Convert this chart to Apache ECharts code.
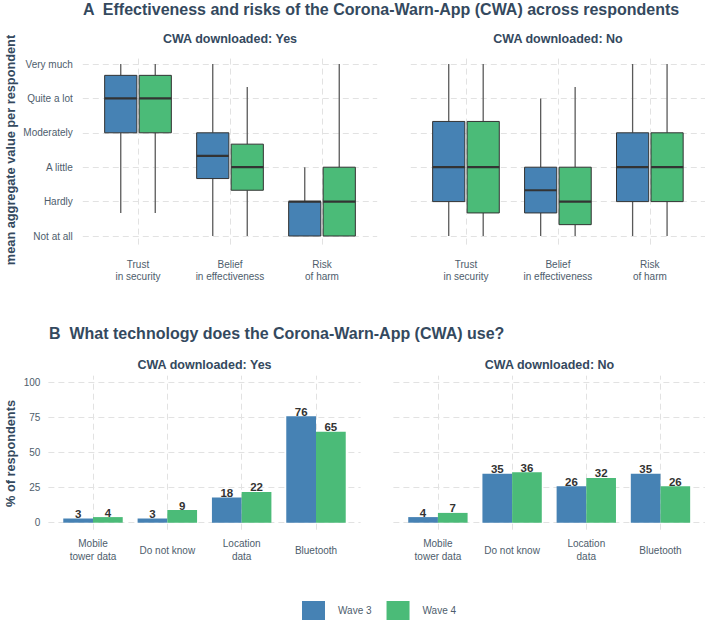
<!DOCTYPE html>
<html><head><meta charset="utf-8">
<script src="https://cdn.jsdelivr.net/npm/echarts@6/dist/echarts.min.js"></script>
<style>html,body{margin:0;padding:0;background:#fff}#c{width:708px;height:623px}</style>
</head><body><div id="c"></div>
<script>
// ---------- data ----------
const boxCategories = ['Trust\nin security', 'Belief\nin effectiveness', 'Risk\nof harm'];
const levelLabels = ['Not at all', 'Hardly', 'A little', 'Moderately', 'Quite a lot', 'Very much'];
// each entry: [lower whisker, Q1, median, Q3, upper whisker]
const boxYesWave3 = [[0.67, 3, 4, 4.67, 5], [0, 1.67, 2.33, 3, 5], [0, 0, 1, 1, 2]];
const boxYesWave4 = [[0.67, 3, 4, 4.67, 5], [0, 1.33, 2, 2.67, 4.33], [0, 0, 1, 2, 5]];
const boxNoWave3  = [[0, 1, 2, 3.33, 5], [0, 0.67, 1.33, 2, 4], [0, 1, 2, 3, 5]];
const boxNoWave4  = [[0, 0.67, 2, 3.33, 5], [0, 0.33, 1, 2, 4.33], [0, 1, 2, 3, 5]];

const techCategories = ['Mobile\ntower data', 'Do not know', 'Location\ndata', 'Bluetooth'];
const techYesWave3 = [3, 3, 18, 76];
const techYesWave4 = [4, 9, 22, 65];
const techNoWave3  = [4, 35, 26, 35];
const techNoWave4  = [7, 36, 32, 26];
const pctTicks = [0, 25, 50, 75, 100];

const waveNames = ['Wave 3', 'Wave 4'];

// ---------- style ----------
const FONT = '"Liberation Sans", Arial, Helvetica, sans-serif';
const BLUE = '#4682B4', GREEN = '#4BBB78';
const TITLE_C = '#34495E', TICK_C = '#4E5D6C';
const GRID_C = '#e2e2e2';

const chart = echarts.init(document.getElementById('c'), null, {renderer: 'svg'});

const isInt = v => Math.abs(v - Math.round(v)) < 1e-6;

function xAxisFor(gridIndex, cats, margin) {
  return {
    type: 'value', gridIndex, min: -0.6, max: cats.length - 1 + 0.6, interval: 0.2,
    axisLine: {show: false}, axisTick: {show: false}, splitLine: {show: false},
    axisLabel: {
      margin, verticalAlign: 'middle', align: 'center', lineHeight: 12.5,
      fontFamily: FONT, fontSize: 10, color: TICK_C,
      formatter: v => (isInt(v) && v >= 0 && v < cats.length) ? cats[Math.round(v)] : ''
    }
  };
}
function yAxisBox(gridIndex, showLabels) {
  return {
    type: 'value', gridIndex, min: -0.25, max: levelLabels.length - 1 + 0.25, interval: 0.25,
    axisLine: {show: false}, axisTick: {show: false}, splitLine: {show: false},
    axisLabel: {
      show: showLabels, margin: 10, fontFamily: FONT, fontSize: 10, color: TICK_C,
      formatter: v => (isInt(v) && v >= 0 && v < levelLabels.length) ? levelLabels[Math.round(v)] : ''
    }
  };
}
function yAxisPct(gridIndex, showLabels) {
  return {
    type: 'value', gridIndex, min: -5, max: 105, interval: 5,
    axisLine: {show: false}, axisTick: {show: false}, splitLine: {show: false},
    axisLabel: {
      show: showLabels, margin: 8, fontFamily: FONT, fontSize: 10, color: TICK_C,
      formatter: v => pctTicks.some(t => Math.abs(t - v) < 1e-6) ? String(Math.round(v)) : ''
    }
  };
}

function gridSeries(axisIndex, xVals, yVals) {
  return {
    type: 'line', name: 'grid' + axisIndex, xAxisIndex: axisIndex, yAxisIndex: axisIndex,
    data: [], silent: true, z: 1,
    markLine: {
      z: 1, silent: true, symbol: ['none', 'none'], animation: false,
      label: {show: false},
      lineStyle: {color: GRID_C, type: [6, 4], width: 1},
      emphasis: {disabled: true},
      data: xVals.map(v => ({xAxis: v})).concat(yVals.map(v => ({yAxis: v})))
    }
  };
}

function boxItem(side, fill) {
  return function (params, api) {
    const x = api.value(0);
    const unit = api.size([1, 0])[0];
    const cx = api.coord([x, 0])[0] + side * 0.1875 * unit;
    const hw = 0.175 * unit;
    const y = k => api.coord([x, api.value(k)])[1];
    const yLo = y(1), yQ1 = y(2), yMed = y(3), yQ3 = y(4), yHi = y(5);
    const wStyle = {stroke: '#5a5a5a', lineWidth: 1.3};
    return {type: 'group', children: [
      {type: 'line', shape: {x1: cx, y1: yHi, x2: cx, y2: yQ3}, style: wStyle},
      {type: 'line', shape: {x1: cx, y1: yQ1, x2: cx, y2: yLo}, style: wStyle},
      {type: 'rect', shape: {x: cx - hw, y: yQ3, width: 2 * hw, height: yQ1 - yQ3},
        style: {fill, stroke: '#333', lineWidth: 1}},
      {type: 'line', shape: {x1: cx - hw, y1: yMed, x2: cx + hw, y2: yMed},
        style: {stroke: '#333', lineWidth: 2.2}}
    ]};
  };
}
function boxSeries(axisIndex, name, side, fill, stats) {
  return {
    type: 'custom', name, xAxisIndex: axisIndex, yAxisIndex: axisIndex, z: 3,
    itemStyle: {color: fill}, silent: true,
    renderItem: boxItem(side, fill),
    encode: {x: 0, y: [1, 2, 3, 4, 5]},
    data: stats.map((s, i) => [i].concat(s))
  };
}

function barItem(side, fill) {
  return function (params, api) {
    const x = api.value(0), v = api.value(1);
    const unit = api.size([1, 0])[0];
    const p0 = api.coord([x, 0]), p1 = api.coord([x, v]);
    const w = 0.4 * unit;
    const left = side < 0 ? p0[0] - w : p0[0];
    return {type: 'group', children: [
      {type: 'rect', shape: {x: left, y: p1[1], width: w, height: p0[1] - p1[1]}, style: {fill}},
      {type: 'text', x: left + w / 2, y: p1[1] - 4.5,
        style: {text: String(v), align: 'center', verticalAlign: 'middle', fill: '#333',
          font: 'bold 11.5px ' + FONT}}
    ]};
  };
}
function barSeries(axisIndex, name, side, fill, vals) {
  return {
    type: 'custom', name, xAxisIndex: axisIndex, yAxisIndex: axisIndex, z: 3,
    itemStyle: {color: fill}, silent: true,
    renderItem: barItem(side, fill),
    encode: {x: 0, y: 1},
    data: vals.map((v, i) => [i, v])
  };
}

const idx = arr => arr.map((_, i) => i);

const graphicText = (x, y, text, size, opts) => Object.assign({
  type: 'text', x, y, silent: true,
  style: {text, fill: TITLE_C, font: 'bold ' + size + 'px ' + FONT,
    align: 'center', verticalAlign: 'middle'}
}, opts || {});

const option = {
  animation: false,
  backgroundColor: '#fff',
  grid: [
    {left: 82.8, top: 55.4, width: 294.4, height: 189.2},
    {left: 410.8, top: 55.4, width: 294.4, height: 189.2},
    {left: 48.4, top: 375.7, width: 312.2, height: 154},
    {left: 393.4, top: 375.7, width: 312.2, height: 154}
  ],
  xAxis: [
    xAxisFor(0, boxCategories, 26),
    xAxisFor(1, boxCategories, 26),
    xAxisFor(2, techCategories, 20.3),
    xAxisFor(3, techCategories, 20.3)
  ],
  yAxis: [
    yAxisBox(0, true), yAxisBox(1, false),
    yAxisPct(2, true), yAxisPct(3, false)
  ],
  legend: {
    left: 302, top: 601, padding: 0, itemWidth: 23, itemHeight: 19, itemGap: 15,
    icon: 'rect', selectedMode: false,
    textStyle: {fontFamily: FONT, fontSize: 10, color: TICK_C, padding: [0, 0, 0, 8]},
    data: [
      {name: waveNames[0], itemStyle: {color: BLUE}},
      {name: waveNames[1], itemStyle: {color: GREEN}}
    ]
  },
  graphic: [
    {type: 'text', x: 83, y: 9, silent: true,
      style: {text: 'A  Effectiveness and risks of the Corona-Warn-App (CWA) across respondents',
        fill: TITLE_C, font: 'bold 16px ' + FONT, align: 'left', verticalAlign: 'middle'}},
    {type: 'text', x: 49, y: 333.5, silent: true,
      style: {text: 'B  What technology does the Corona-Warn-App (CWA) use?',
        fill: TITLE_C, font: 'bold 16px ' + FONT, align: 'left', verticalAlign: 'middle'}},
    graphicText(230, 39, 'CWA downloaded: Yes', 12.5),
    graphicText(558, 39, 'CWA downloaded: No', 12.5),
    graphicText(204.5, 365, 'CWA downloaded: Yes', 12.5),
    graphicText(549.5, 365, 'CWA downloaded: No', 12.5),
    graphicText(10, 150, 'mean aggregate value per respondent', 12.75, {rotation: Math.PI / 2}),
    graphicText(10, 453.5, '% of respondents', 12.75, {rotation: Math.PI / 2})
  ],
  series: [
    gridSeries(0, idx(boxCategories), idx(levelLabels)),
    gridSeries(1, idx(boxCategories), idx(levelLabels)),
    gridSeries(2, idx(techCategories), pctTicks),
    gridSeries(3, idx(techCategories), pctTicks),
    boxSeries(0, waveNames[0], -1, BLUE, boxYesWave3),
    boxSeries(0, waveNames[1], 1, GREEN, boxYesWave4),
    boxSeries(1, waveNames[0], -1, BLUE, boxNoWave3),
    boxSeries(1, waveNames[1], 1, GREEN, boxNoWave4),
    barSeries(2, waveNames[0], -1, BLUE, techYesWave3),
    barSeries(2, waveNames[1], 1, GREEN, techYesWave4),
    barSeries(3, waveNames[0], -1, BLUE, techNoWave3),
    barSeries(3, waveNames[1], 1, GREEN, techNoWave4)
  ]
};
chart.setOption(option);
</script></body></html>
